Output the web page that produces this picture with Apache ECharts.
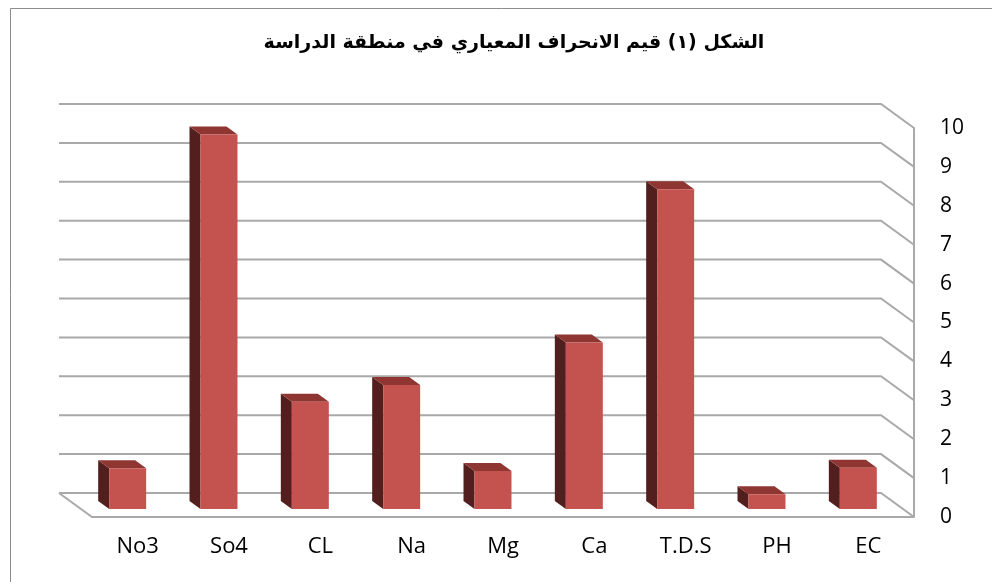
<!DOCTYPE html>
<html>
<head>
<meta charset="utf-8">
<script src="https://cdn.jsdelivr.net/npm/echarts@6/dist/echarts.min.js"></script>
<style>
  html, body { margin: 0; padding: 0; background: #fff; }
  #chart { width: 992px; height: 582px; }
</style>
</head>
<body>
<div id="chart"></div>
<script>
var categories = ['No3', 'So4', 'CL', 'Na', 'Mg', 'Ca', 'T.D.S', 'PH', 'EC'];
var values = [1.05, 9.63, 2.76, 3.19, 0.98, 4.28, 8.22, 0.38, 1.06];
var yTicks = [0, 1, 2, 3, 4, 5, 6, 7, 8, 9, 10];
var titleText = 'الشكل (١) قيم الانحراف المعياري في منطقة الدراسة';

var chart = echarts.init(document.getElementById('chart'));

// depth offset of back wall relative to the front plane
var DX = -33, DY = -24;
var gridColor = '#a9a9a9';

function renderFrame(params, api) {
  var cs = params.coordSys;
  var v = api.value(1);
  var y = api.coord([0, v])[1];
  var x0 = cs.x, x1 = cs.x + cs.width;
  var style = { stroke: gridColor, lineWidth: 2, fill: null };
  var children = [
    { type: 'polyline', shape: { points: [[x0 + DX, y + DY], [x1 + DX, y + DY], [x1, y]] }, style: style }
  ];
  if (v === 0) {
    children.push({ type: 'polyline', shape: { points: [[x0 + DX, y + DY], [x0, y], [x1, y]] }, style: style });
  }
  return { type: 'group', children: children };
}

function renderBar(params, api) {
  var i = api.value(0);
  var top = api.coord([i, api.value(1)]);
  var base = api.coord([i, 0]);
  var band = api.size([1, 0])[0];
  var w = band * 0.405;
  var ox = -10, oy = -8;   // bars stand halfway back in depth
  var dx = -11, dy = -8;   // bar depth
  var fx0 = top[0] + ox - w / 2, fx1 = fx0 + w;
  var ty = top[1] + oy, by = base[1] + oy;
  return {
    type: 'group',
    children: [
      { type: 'polygon', shape: { points: [[fx0, ty], [fx0 + dx, ty + dy], [fx0 + dx, by + dy], [fx0, by]] },
        style: { fill: '#521f1e' } },
      { type: 'polygon', shape: { points: [[fx0, ty], [fx1, ty], [fx1 + dx, ty + dy], [fx0 + dx, ty + dy]] },
        style: { fill: '#8f3633' } },
      { type: 'rect', shape: { x: fx0, y: ty, width: w, height: by - ty },
        style: { fill: '#c4534f' } }
    ]
  };
}

var option = {
  backgroundColor: '#fff',
  animation: false,
  graphic: [
    { type: 'rect', shape: { x: 10.5, y: 8.5, width: 990, height: 590 },
      style: { fill: null, stroke: '#8c8c8c', lineWidth: 1 }, silent: true },
    { type: 'text', x: 514, y: 43, silent: true,
      style: { text: titleText, align: 'center', verticalAlign: 'middle',
               font: 'bold 19px "DejaVu Sans"', fill: '#000' } }
  ],
  grid: { left: 92, right: 78, top: 128, bottom: 65 },
  xAxis: {
    type: 'category',
    data: categories,
    axisLine: { show: false },
    axisTick: { show: false },
    axisLabel: { margin: 19, fontFamily: 'Open Sans', fontSize: 22, color: '#000' }
  },
  yAxis: {
    type: 'value',
    position: 'right',
    min: 0,
    max: 10,
    interval: 1,
    splitLine: { show: false },
    axisLine: { show: true, lineStyle: { color: gridColor, width: 2 } },
    axisTick: { show: false },
    axisLabel: { margin: 26, fontFamily: 'Open Sans', fontSize: 21, color: '#000' }
  },
  series: [
    {
      type: 'custom',
      renderItem: renderFrame,
      data: yTicks.map(function (t) { return [0, t]; }),
      z: 1,
      silent: true
    },
    {
      type: 'custom',
      renderItem: renderBar,
      data: values.map(function (v, i) { return [i, v]; }),
      z: 2
    }
  ]
};
chart.setOption(option);
</script>
</body>
</html>
